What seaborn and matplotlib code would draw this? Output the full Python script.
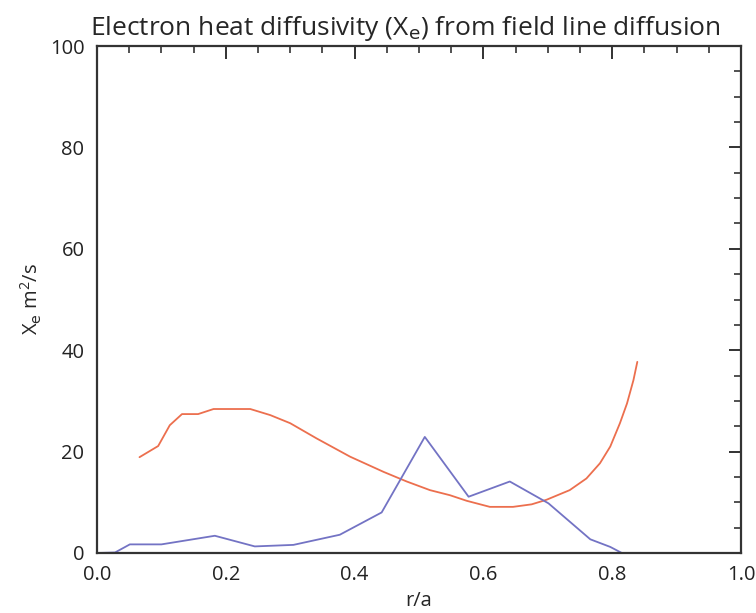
import matplotlib
matplotlib.use("Agg")
import matplotlib.pyplot as plt
import seaborn as sns
import pandas as pd
from matplotlib.ticker import MultipleLocator

# Orange curve (field line diffusion estimate)
r_orange = [0.066, 0.095, 0.113, 0.132, 0.157, 0.181, 0.238, 0.269, 0.300, 0.341,
            0.393, 0.445, 0.481, 0.517, 0.548, 0.574, 0.610, 0.646, 0.675, 0.698,
            0.734, 0.760, 0.781, 0.797, 0.812, 0.823, 0.833, 0.839]
chi_orange = [18.9, 21.1, 25.2, 27.4, 27.4, 28.4, 28.4, 27.2, 25.6, 22.6,
              19.0, 16.0, 14.1, 12.4, 11.4, 10.3, 9.1, 9.1, 9.6, 10.5,
              12.4, 14.7, 17.7, 21.0, 25.6, 29.5, 34.1, 37.7]

# Blue curve
r_blue = [0.0, 0.028, 0.051, 0.100, 0.183, 0.245, 0.305, 0.377, 0.442, 0.509,
          0.577, 0.641, 0.701, 0.766, 0.797, 0.815]
chi_blue = [0.0, 0.1, 1.7, 1.7, 3.4, 1.3, 1.6, 3.6, 8.0, 22.9,
            11.1, 14.1, 9.8, 2.7, 1.2, 0.0]

title = "Electron heat diffusivity (X$_\\mathrm{e}$) from field line diffusion"
xlabel = "r/a"
ylabel = "X$_\\mathrm{e}$ m$^2$/s"

sns.set_style("white")
plt.rcParams["font.family"] = ["Open Sans", "DejaVu Sans"]
plt.rcParams["mathtext.default"] = "regular"

fig = plt.figure(figsize=(7.56, 6.13), dpi=100)
ax = fig.add_axes([97/756, 60/613, 644/756, 507/613])

df_o = pd.DataFrame({"r": r_orange, "chi": chi_orange})
df_b = pd.DataFrame({"r": r_blue, "chi": chi_blue})
sns.lineplot(data=df_o, x="r", y="chi", ax=ax, color="#EC6F4E", lw=1.3, sort=False)
sns.lineplot(data=df_b, x="r", y="chi", ax=ax, color="#7373C4", lw=1.3, sort=False)

ax.set_xlim(0, 1.0)
ax.set_ylim(0, 100)
ax.xaxis.set_major_locator(MultipleLocator(0.2))
ax.xaxis.set_minor_locator(MultipleLocator(0.05))
ax.yaxis.set_major_locator(MultipleLocator(20))
ax.yaxis.set_minor_locator(MultipleLocator(5))
ax.xaxis.set_major_formatter(matplotlib.ticker.FormatStrFormatter("%.1f"))
ax.tick_params(which="both", direction="in", top=True, right=True, colors="#222222",
               labelsize=14.5)
ax.tick_params(which="major", length=9, width=1.3, pad=9)
ax.tick_params(which="minor", length=5, width=1.1)
for s in ax.spines.values():
    s.set_visible(True)
    s.set_color("#333333")
    s.set_linewidth(1.6)

ax.set_xlabel(xlabel, fontsize=14.5, labelpad=4)
ax.set_ylabel(ylabel, fontsize=14.5, labelpad=4)
ax.set_title(title, fontsize=19, pad=8, x=0.478)

fig.savefig("out.png", dpi=100)
